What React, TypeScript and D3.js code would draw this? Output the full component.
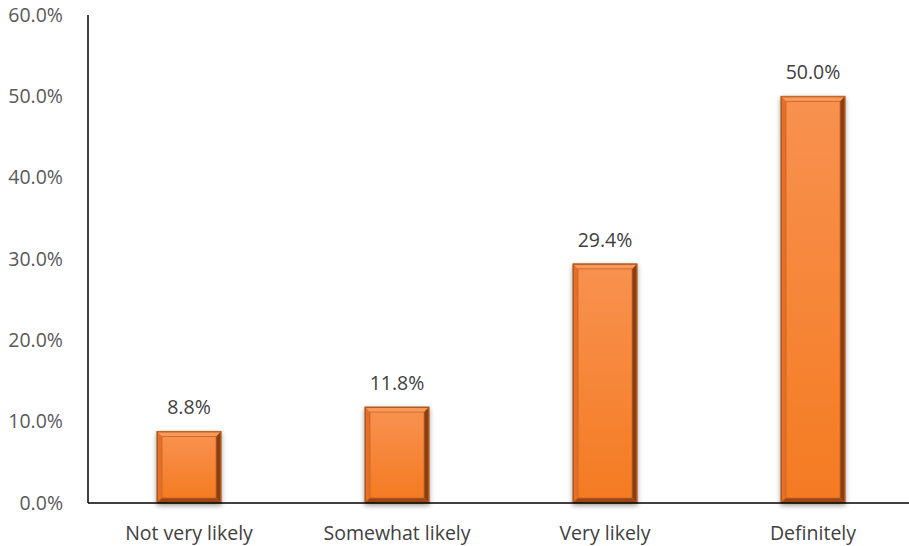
import React from "react";
import * as d3 from "d3";

const categories = ["Not very likely", "Somewhat likely", "Very likely", "Definitely"];
const values = [8.8, 11.8, 29.4, 50.0];
const yTicks = [0, 10, 20, 30, 40, 50, 60];

const W = 909, H = 546;
const M = { left: 88, top: 15, bottom: 43 };

export default function App() {
  const x = d3.scaleBand<string>().domain(categories).range([85, 917]).paddingInner(0.692).paddingOuter(0.346);
  const y = d3.scaleLinear().domain([0, 60]).range([H - M.bottom, M.top]);
  const bw = x.bandwidth();
  const font = "'Open Sans', 'Liberation Sans', sans-serif";
  const fs = 19.5;
  return (
    <svg width={W} height={H} style={{ position: "absolute", left: 0, top: 0 }} fontFamily={font}>
      <defs>
        <linearGradient id="bg" x1="0" y1="0" x2="0" y2="1">
          <stop offset="0" stopColor="#F8914F" />
          <stop offset="1" stopColor="#F47B22" />
        </linearGradient>
        <filter id="sh" x="-20%" y="-20%" width="140%" height="140%">
          <feGaussianBlur in="SourceAlpha" stdDeviation="2.5" />
          <feOffset dx="0" dy="2" result="b" />
          <feComponentTransfer><feFuncA type="linear" slope="0.4" /></feComponentTransfer>
          <feMerge><feMergeNode /><feMergeNode in="SourceGraphic" /></feMerge>
        </filter>
      </defs>
      {yTicks.map(t => (
        <text key={t} x={63} y={y(t)} dy="0.35em" textAnchor="end" fontSize={fs} fill="#595959">
          {t.toFixed(1) + "%"}
        </text>
      ))}
      {categories.map((c, i) => {
        const x0 = x(c)!;
        const y0 = y(values[i]);
        const h = y(0) - y0;
        const b = 5;
        return (
          <g key={c}>
            <rect x={x0} y={y0} width={bw} height={h} fill="url(#bg)" stroke="#A9551D" strokeWidth={1} filter="url(#sh)" />
            <polygon points={`${x0},${y0} ${x0 + bw},${y0} ${x0 + bw - b},${y0 + b} ${x0 + b},${y0 + b}`} fill="#F99A5C" />
            <polygon points={`${x0},${y0} ${x0 + b},${y0 + b} ${x0 + b},${y0 + h - b} ${x0},${y0 + h}`} fill="#E2702A" />
            <polygon points={`${x0 + bw},${y0} ${x0 + bw},${y0 + h} ${x0 + bw - b},${y0 + h - b} ${x0 + bw - b},${y0 + b}`} fill="#8A3E12" />
            <polygon points={`${x0},${y0 + h} ${x0 + bw},${y0 + h} ${x0 + bw - b},${y0 + h - b} ${x0 + b},${y0 + h - b}`} fill="#9A4715" />
            <rect x={x0 + b} y={y0 + b} width={bw - 2 * b} height={h - 2 * b} fill="url(#bg)" stroke="#C8621F" strokeWidth={0.8} />
            <rect x={x0 + 0.5} y={y0 + 0.5} width={bw - 1} height={h - 1} fill="none" stroke="#B0591F" strokeWidth={1} />
            <text x={x0 + bw / 2} y={y0 - 17} textAnchor="middle" fontSize={fs} fill="#404040">
              {values[i].toFixed(1) + "%"}
            </text>
            <text x={x0 + bw / 2} y={540} textAnchor="middle" fontSize={fs} fill="#404040">
              {c}
            </text>
          </g>
        );
      })}
      <line x1={M.left} x2={M.left} y1={M.top} y2={y(0)} stroke="#000" strokeWidth={1.5} />
      <line x1={M.left} x2={W} y1={y(0)} y2={y(0)} stroke="#000" strokeWidth={1.5} />
    </svg>
  );
}
